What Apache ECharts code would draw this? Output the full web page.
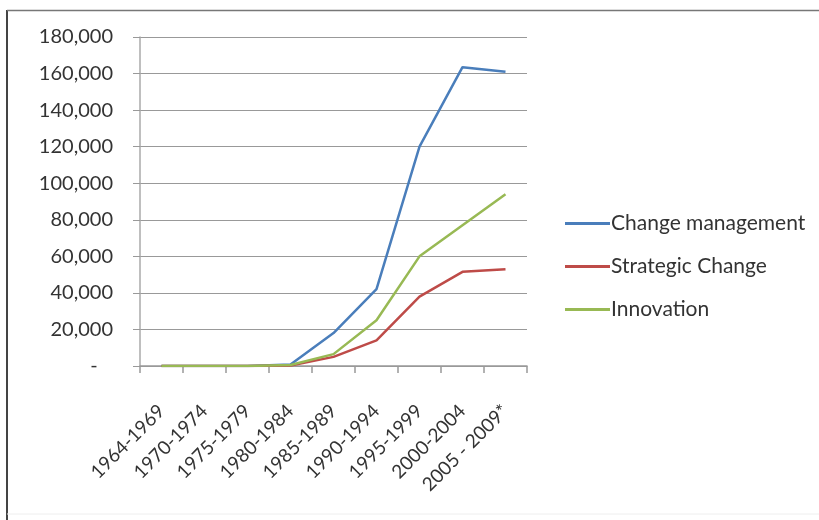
<!DOCTYPE html>
<html><head><meta charset="utf-8">
<script src="https://cdn.jsdelivr.net/npm/echarts@6/dist/echarts.min.js"></script>
<style>html,body{margin:0;padding:0;background:#fff}#c{width:819px;height:520px}</style>
</head><body><div id="c"></div>
<script>
const categories = ['1964-1969','1970-1974','1975-1979','1980-1984','1985-1989','1990-1994','1995-1999','2000-2004','2005 - 2009*'];
const changeManagement = [0, 0, 0, 800, 18000, 42000, 120000, 163500, 161000];
const strategicChange = [0, 0, 0, 300, 5000, 14000, 38000, 51500, 53000];
const innovation = [0, 0, 0, 500, 6500, 25000, 60000, 77000, 94000];
const yTicks = [0, 20000, 40000, 60000, 80000, 100000, 120000, 140000, 160000, 180000];

const font = 'Lato, "Open Sans", sans-serif';
const chart = echarts.init(document.getElementById('c'), null, {renderer:'canvas'});
chart.setOption({
  animation:false,
  backgroundColor:'#fff',
  graphic:[
    {type:'line', shape:{x1:7,y1:10,x2:7,y2:520}, style:{stroke:'#444',lineWidth:2}},
    {type:'line', shape:{x1:7,y1:10.5,x2:819,y2:10.5}, style:{stroke:'#777',lineWidth:1.5}},
    {type:'line', shape:{x1:7,y1:514,x2:819,y2:514}, style:{stroke:'#eee',lineWidth:1}}
  ],
  grid:{left:140, right:292, top:37, bottom:154},
  legend:{
    orient:'vertical', left:560, top:208, itemGap:22, itemWidth:45, itemHeight:3,
    icon:'rect',
    textStyle:{fontFamily:font, fontSize:21, color:'#333', padding:[0,0,0,-4]},
    data:['Change management','Strategic Change','Innovation']
  },
  xAxis:{
    type:'category', data:categories, boundaryGap:true,
    axisLine:{lineStyle:{color:'#999', width:1.5}},
    axisTick:{show:true, length:7, lineStyle:{color:'#999', width:1.5}},
    axisLabel:{rotate:45, interval:0, fontFamily:font, fontSize:19, color:'#333', margin:42}
  },
  yAxis:{
    type:'value', min:0, max:180000, interval:20000,
    axisLine:{show:true, lineStyle:{color:'#aaa', width:1.5}},
    axisTick:{show:true, length:7, lineStyle:{color:'#999'}},
    splitLine:{lineStyle:{color:'#999', width:1.2}},
    axisLabel:{fontFamily:font, fontSize:20, color:'#333', margin:27,
      formatter:function(v){ return yTicks.indexOf(v)===0 ? '-   ' : v.toLocaleString('en-US'); }}
  },
  series:[
    {name:'Change management', type:'line', data:changeManagement, showSymbol:false, lineStyle:{color:'#4A7EBB', width:2.5}, itemStyle:{color:'#4A7EBB'}},
    {name:'Strategic Change', type:'line', data:strategicChange, showSymbol:false, lineStyle:{color:'#BE4B48', width:2.5}, itemStyle:{color:'#BE4B48'}},
    {name:'Innovation', type:'line', data:innovation, showSymbol:false, lineStyle:{color:'#98B954', width:2.5}, itemStyle:{color:'#98B954'}}
  ]
});
</script></body></html>
